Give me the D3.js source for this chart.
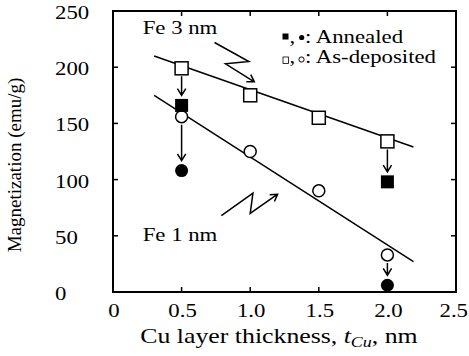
<!DOCTYPE html>
<html>
<head>
<meta charset="utf-8">
<script src="https://cdn.jsdelivr.net/npm/d3@7"></script>
<style>
  body { margin: 0; background: #fff; }
  text { font-family: "Liberation Serif", "Times New Roman", serif; fill: #000; }
</style>
</head>
<body>
<div id="chart"></div>
<script>
const w = 469
const h = 356

// tick values / labels
const xTicks = [0, 0.5, 1.0, 1.5, 2.0, 2.5]
const xTickLabels = ['0', '0.5', '1.0', '1.5', '2.0', '2.5']
const yTicks = [0, 50, 100, 150, 200, 250]

// as-deposited points
const thickness = [0.5, 1.0, 1.5, 2.0]
const fe3Deposited = [199, 175, 155, 134]
const fe1Deposited = [156, 125, 90, 33]

// annealed points
const annealedThickness = [0.5, 2.0]
const fe3Annealed = [166, 98]
const fe1Annealed = [108, 6]

// fitted lines (endpoints)
const fe3Fit = [[0.3, 210], [2.19, 129]]
const fe1Fit = [[0.3, 175], [2.19, 27]]

// zigzag pointers (data coords)
const fe3Zig = [[0.74, 222], [0.99, 205], [0.82, 203], [1.03, 187]]
const fe1Zig = [[0.79, 68], [1.02, 88], [1.0, 70], [1.2, 87]]

const sx = 1.2 // horizontal stretch of the source image text

const svg = d3.select('#chart')
    .append('svg')
    .attr('width', w)
    .attr('height', h)

const xScale = d3.scaleLinear().domain([0, 2.5]).range([113, 456])
const yScale = d3.scaleLinear().domain([0, 250]).range([292, 11])

// frame
svg.append('rect')
    .attr('x', xScale(0))
    .attr('y', yScale(250))
    .attr('width', xScale(2.5) - xScale(0))
    .attr('height', yScale(0) - yScale(250))
    .attr('fill', 'none')
    .attr('stroke', '#000')
    .attr('stroke-width', 2)

// inward ticks on all four sides
const tickG = svg.append('g').attr('stroke', '#000').attr('stroke-width', 1.5)
xTicks.slice(1, -1).forEach(t => {
    tickG.append('line').attr('x1', xScale(t)).attr('x2', xScale(t))
        .attr('y1', yScale(0)).attr('y2', yScale(0) - 5)
    tickG.append('line').attr('x1', xScale(t)).attr('x2', xScale(t))
        .attr('y1', yScale(250)).attr('y2', yScale(250) + 5)
})
yTicks.slice(1, -1).forEach(t => {
    tickG.append('line').attr('y1', yScale(t)).attr('y2', yScale(t))
        .attr('x1', xScale(0)).attr('x2', xScale(0) + 5)
    tickG.append('line').attr('y1', yScale(t)).attr('y2', yScale(t))
        .attr('x1', xScale(2.5)).attr('x2', xScale(2.5) - 5)
})

// tick labels (last one is kept inside the window)
svg.selectAll('.xlab')
    .data(xTicks)
    .enter()
    .append('text')
    .attr('class', 'xlab')
    .attr('text-anchor', 'middle')
    .attr('font-size', 19)
    .text((d, i) => xTickLabels[i])
    .attr('transform', function (d) {
        const half = this.getComputedTextLength() * sx / 2
        const x = Math.min(xScale(d) + 1, w - 1 - half)
        return `translate(${x},317) scale(${sx},1)`
    })

svg.selectAll('.ylab')
    .data(yTicks)
    .enter()
    .append('text')
    .attr('class', 'ylab')
    .attr('transform', d => `translate(55,${yScale(d) + 8}) scale(${sx},1)`)
    .attr('font-size', 19)
    .text(d => d)

// axis titles
svg.append('text')
    .attr('transform', 'translate(21,165) rotate(-90)')
    .attr('text-anchor', 'middle')
    .attr('font-size', 19)
    .text('Magnetization (emu/g)')

const xt = svg.append('text')
    .attr('transform', `translate(279,343) scale(${sx},1)`)
    .attr('text-anchor', 'middle')
    .attr('font-size', 21.5)
xt.append('tspan').text('Cu layer thickness, ')
xt.append('tspan').attr('font-style', 'italic').text('t')
xt.append('tspan').attr('font-style', 'italic').attr('font-size', 15).attr('dy', 4).text('Cu')
xt.append('tspan').attr('dy', -4).text(', nm')

// fit lines
const line = d3.line().x(d => xScale(d[0])).y(d => yScale(d[1]))
;[fe3Fit, fe1Fit].forEach(f => {
    svg.append('path').attr('d', line(f))
        .attr('fill', 'none').attr('stroke', '#000').attr('stroke-width', 1.5)
})

// arrows from as-deposited to annealed
function arrowHead(x, y, angle) {
    const l = 8, a = 0.55
    const p1 = [x - l * Math.cos(angle - a), y - l * Math.sin(angle - a)]
    const p2 = [x - l * Math.cos(angle + a), y - l * Math.sin(angle + a)]
    return `M${p1[0]},${p1[1]}L${x},${y}L${p2[0]},${p2[1]}`
}
const arrows = []
annealedThickness.forEach((t, i) => {
    const k = thickness.indexOf(t)
    arrows.push([t, fe3Deposited[k], fe3Annealed[i]])
    arrows.push([t, fe1Deposited[k], fe1Annealed[i]])
})
arrows.forEach(a => {
    const x = xScale(a[0])
    const y1 = yScale(a[1]) + 8
    const y2 = yScale(a[2]) - 10
    svg.append('path')
        .attr('d', `M${x},${y1}L${x},${y2}` + arrowHead(x, y2, Math.PI / 2))
        .attr('fill', 'none').attr('stroke', '#000').attr('stroke-width', 1.5)
})

// zigzag pointers
;[fe3Zig, fe1Zig].forEach(z => {
    const pts = z.map(d => [xScale(d[0]), yScale(d[1])])
    const n = pts.length
    const ang = Math.atan2(pts[n - 1][1] - pts[n - 2][1], pts[n - 1][0] - pts[n - 2][0])
    svg.append('path')
        .attr('d', d3.line()(pts) + arrowHead(pts[n - 1][0], pts[n - 1][1], ang))
        .attr('fill', 'none').attr('stroke', '#000').attr('stroke-width', 1.5)
})

// markers
const s = 13
svg.selectAll('.sqOpen')
    .data(thickness)
    .enter()
    .append('rect')
    .attr('x', d => xScale(d) - s / 2)
    .attr('y', (d, i) => yScale(fe3Deposited[i]) - s / 2)
    .attr('width', s).attr('height', s)
    .attr('fill', '#fff').attr('stroke', '#000').attr('stroke-width', 1.5)

svg.selectAll('.cOpen')
    .data(thickness)
    .enter()
    .append('circle')
    .attr('cx', d => xScale(d))
    .attr('cy', (d, i) => yScale(fe1Deposited[i]))
    .attr('r', 6)
    .attr('fill', '#fff').attr('stroke', '#000').attr('stroke-width', 1.5)

svg.selectAll('.sqFill')
    .data(annealedThickness)
    .enter()
    .append('rect')
    .attr('x', d => xScale(d) - s / 2)
    .attr('y', (d, i) => yScale(fe3Annealed[i]) - s / 2)
    .attr('width', s).attr('height', s)
    .attr('fill', '#000')

svg.selectAll('.cFill')
    .data(annealedThickness)
    .enter()
    .append('circle')
    .attr('cx', d => xScale(d))
    .attr('cy', (d, i) => yScale(fe1Annealed[i]))
    .attr('r', 6.5)
    .attr('fill', '#000')

// labels
svg.append('text')
    .attr('transform', `translate(180,34) scale(${sx},1)`)
    .attr('text-anchor', 'middle')
    .attr('font-size', 19)
    .text('Fe 3 nm')
svg.append('text')
    .attr('transform', `translate(180,241) scale(${sx},1)`)
    .attr('text-anchor', 'middle')
    .attr('font-size', 19)
    .text('Fe 1 nm')

// legend
const leg = svg.append('g')
function legText(x, y, str) {
    leg.append('text')
        .attr('transform', `translate(${x},${y}) scale(${sx},1)`)
        .attr('font-size', 19)
        .text(str)
}
leg.append('rect').attr('x', 282.5).attr('y', 33.5).attr('width', 6).attr('height', 6).attr('fill', '#000')
legText(289.5, 43, ',')
leg.append('circle').attr('cx', 301.7).attr('cy', 37.5).attr('r', 2.6).attr('fill', '#000')
legText(305, 43, ': Annealed')
leg.append('rect').attr('x', 283).attr('y', 57).attr('width', 5.5).attr('height', 6.5)
    .attr('fill', 'none').attr('stroke', '#000').attr('stroke-width', 0.8)
legText(289.5, 63, ',')
leg.append('circle').attr('cx', 301.5).attr('cy', 59.5).attr('r', 2.6)
    .attr('fill', 'none').attr('stroke', '#000').attr('stroke-width', 1)
legText(305, 63, ': As-deposited')
</script>
</body>
</html>
